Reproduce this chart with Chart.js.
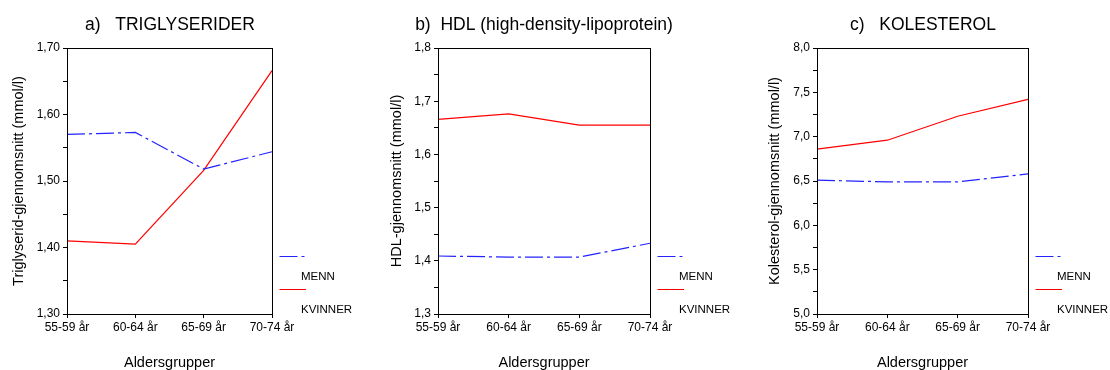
<!DOCTYPE html>
<html>
<head>
<meta charset="utf-8">
<script src="https://cdn.jsdelivr.net/npm/chart.js@4/dist/chart.umd.min.js"></script>
<style>
  html, body { margin: 0; background: #fff; overflow: hidden; }
  #wrap { position: relative; width: 1110px; height: 370px; overflow: hidden; }
  #wrap canvas { position: absolute; top: 0; }
</style>
</head>
<body>
<div id="wrap">
  <canvas id="chartA" width="430" height="370"></canvas>
  <canvas id="chartB" width="430" height="370"></canvas>
  <canvas id="chartC" width="430" height="370"></canvas>
</div>
<script>
const ageGroups = ['55-59 år', '60-64 år', '65-69 år', '70-74 år'];
const seriesNames = ['MENN', 'KVINNER'];

// gjennomsnitt per aldersgruppe
const trigMenn = [1.570, 1.573, 1.518, 1.544];
const trigKvinner = [1.410, 1.405, 1.516, 1.666];
const hdlMenn = [1.409, 1.407, 1.407, 1.433];
const hdlKvinner = [1.666, 1.676, 1.655, 1.655];
const kolMenn = [6.51, 6.49, 6.49, 6.58];
const kolKvinner = [6.86, 6.96, 7.23, 7.42];

// y-akser: [min, max, steg, hovedsteg, desimaler]
const trigAxis = [1.30, 1.70, 0.05, 0.1, 2];
const hdlAxis = [1.3, 1.8, 0.05, 0.1, 1];
const kolAxis = [5.0, 8.0, 0.25, 0.5, 1];

const FONT = "'Liberation Sans', Arial, sans-serif";
const CANVAS_W = 430;
Chart.defaults.font.family = FONT;
Chart.defaults.color = '#000';

// ramme rundt plottet + egen forklaring til høyre
const frameLegend = {
  id: 'frameLegend',
  afterDraw(chart) {
    const ctx = chart.ctx;
    const { left, right, top, bottom } = chart.chartArea;
    ctx.save();
    ctx.strokeStyle = '#000';
    ctx.lineWidth = 1;
    ctx.setLineDash([]);
    ctx.strokeRect(Math.round(left) + 0.5, Math.round(top) + 0.5,
      Math.round(right - left), Math.round(bottom - top));

    ctx.font = '11.5px ' + FONT;
    ctx.textBaseline = 'middle';
    ctx.textAlign = 'left';
    chart.data.datasets.forEach((ds, i) => {
      const ly = Math.round(bottom - 58 + i * 33) + 0.5;
      ctx.strokeStyle = ds.borderColor;
      ctx.setLineDash(ds.borderDash || []);
      ctx.beginPath();
      ctx.moveTo(right + 7.5, ly);
      ctx.lineTo(right + 34, ly);
      ctx.stroke();
      ctx.fillStyle = '#000';
      ctx.fillText(ds.label, right + 29, ly + 20);
    });
    ctx.restore();
  }
};

// plotLeft/plotRight/yTitleX er sidekoordinater; lerretet sentreres over plottet
function makePanel(id, cfg) {
  const [yMin, yMax, step, major, dec] = cfg.axis;
  const canvas = document.getElementById(id);
  const canvasLeft = Math.round((cfg.plotLeft + cfg.plotRight) / 2) - CANVAS_W / 2;
  canvas.style.left = canvasLeft + 'px';
  const yWidth = cfg.plotLeft - canvasLeft;
  const rightWidth = canvasLeft + CANVAS_W - cfg.plotRight;
  const yTitlePad = cfg.yTitleX - canvasLeft - 8.7;

  return new Chart(canvas, {
    type: 'line',
    data: {
      labels: ageGroups,
      datasets: [{
        label: seriesNames[0],
        data: cfg.menn,
        borderColor: '#2323ff',
        borderWidth: 1.2,
        borderDash: [18, 4, 3, 4],
        pointRadius: 0,
        tension: 0
      }, {
        label: seriesNames[1],
        data: cfg.kvinner,
        borderColor: '#ff0000',
        borderWidth: 1.2,
        pointRadius: 0,
        tension: 0
      }]
    },
    options: {
      responsive: false,
      animation: false,
      devicePixelRatio: 1,
      layout: { padding: 0 },
      plugins: {
        legend: { display: false },
        tooltip: { enabled: false },
        title: {
          display: true,
          text: cfg.title,
          fullSize: true,
          color: '#000',
          font: { family: FONT, size: 17.5, weight: 'normal', lineHeight: 1.2 },
          padding: { top: 15, bottom: 12 }
        }
      },
      scales: {
        x: {
          offset: false,
          grid: { drawOnChartArea: false, tickLength: 4, color: '#000' },
          border: { display: false },
          ticks: { color: '#000', font: { size: 12 }, padding: 2, maxRotation: 0, autoSkip: false },
          title: {
            display: true,
            text: 'Aldersgrupper',
            color: '#000',
            font: { size: 14.5, lineHeight: 1 },
            padding: { top: 0, bottom: 0 }
          },
          afterFit(s) { s.height = 56; }
        },
        y: {
          min: yMin,
          max: yMax,
          grid: { drawOnChartArea: false, tickLength: 4, color: '#000' },
          border: { display: false },
          ticks: {
            stepSize: step,
            maxTicksLimit: 20,
            autoSkip: false,
            padding: 3,
            color: '#000',
            font: { size: 12 },
            callback(v) {
              const r = v / major;
              if (Math.abs(r - Math.round(r)) > 1e-6) return '';
              return v.toFixed(dec).replace('.', ',');
            }
          },
          title: {
            display: true,
            text: cfg.yTitle,
            color: '#000',
            font: { size: 14.5 },
            padding: { top: yTitlePad, bottom: 0 }
          },
          afterFit(s) { s.width = yWidth; }
        },
        // tom akse til høyre som holder plass til forklaringen
        yRight: {
          position: 'right',
          min: yMin,
          max: yMax,
          grid: { display: false },
          border: { display: false },
          ticks: { display: false },
          afterFit(s) { s.width = rightWidth; }
        }
      }
    },
    plugins: [frameLegend]
  });
}

makePanel('chartA', {
  title: 'a)   TRIGLYSERIDER',
  yTitle: 'Triglyserid-gjennomsnitt (mmol/l)',
  menn: trigMenn, kvinner: trigKvinner, axis: trigAxis,
  plotLeft: 67, plotRight: 272, yTitleX: 19
});
makePanel('chartB', {
  title: 'b)  HDL (high-density-lipoprotein)',
  yTitle: 'HDL-gjennomsnitt (mmol/l)',
  menn: hdlMenn, kvinner: hdlKvinner, axis: hdlAxis,
  plotLeft: 438, plotRight: 650, yTitleX: 397
});
makePanel('chartC', {
  title: 'c)   KOLESTEROL',
  yTitle: 'Kolesterol-gjennomsnitt (mmol/l)',
  menn: kolMenn, kvinner: kolKvinner, axis: kolAxis,
  plotLeft: 817, plotRight: 1028, yTitleX: 775
});
</script>
</body>
</html>
